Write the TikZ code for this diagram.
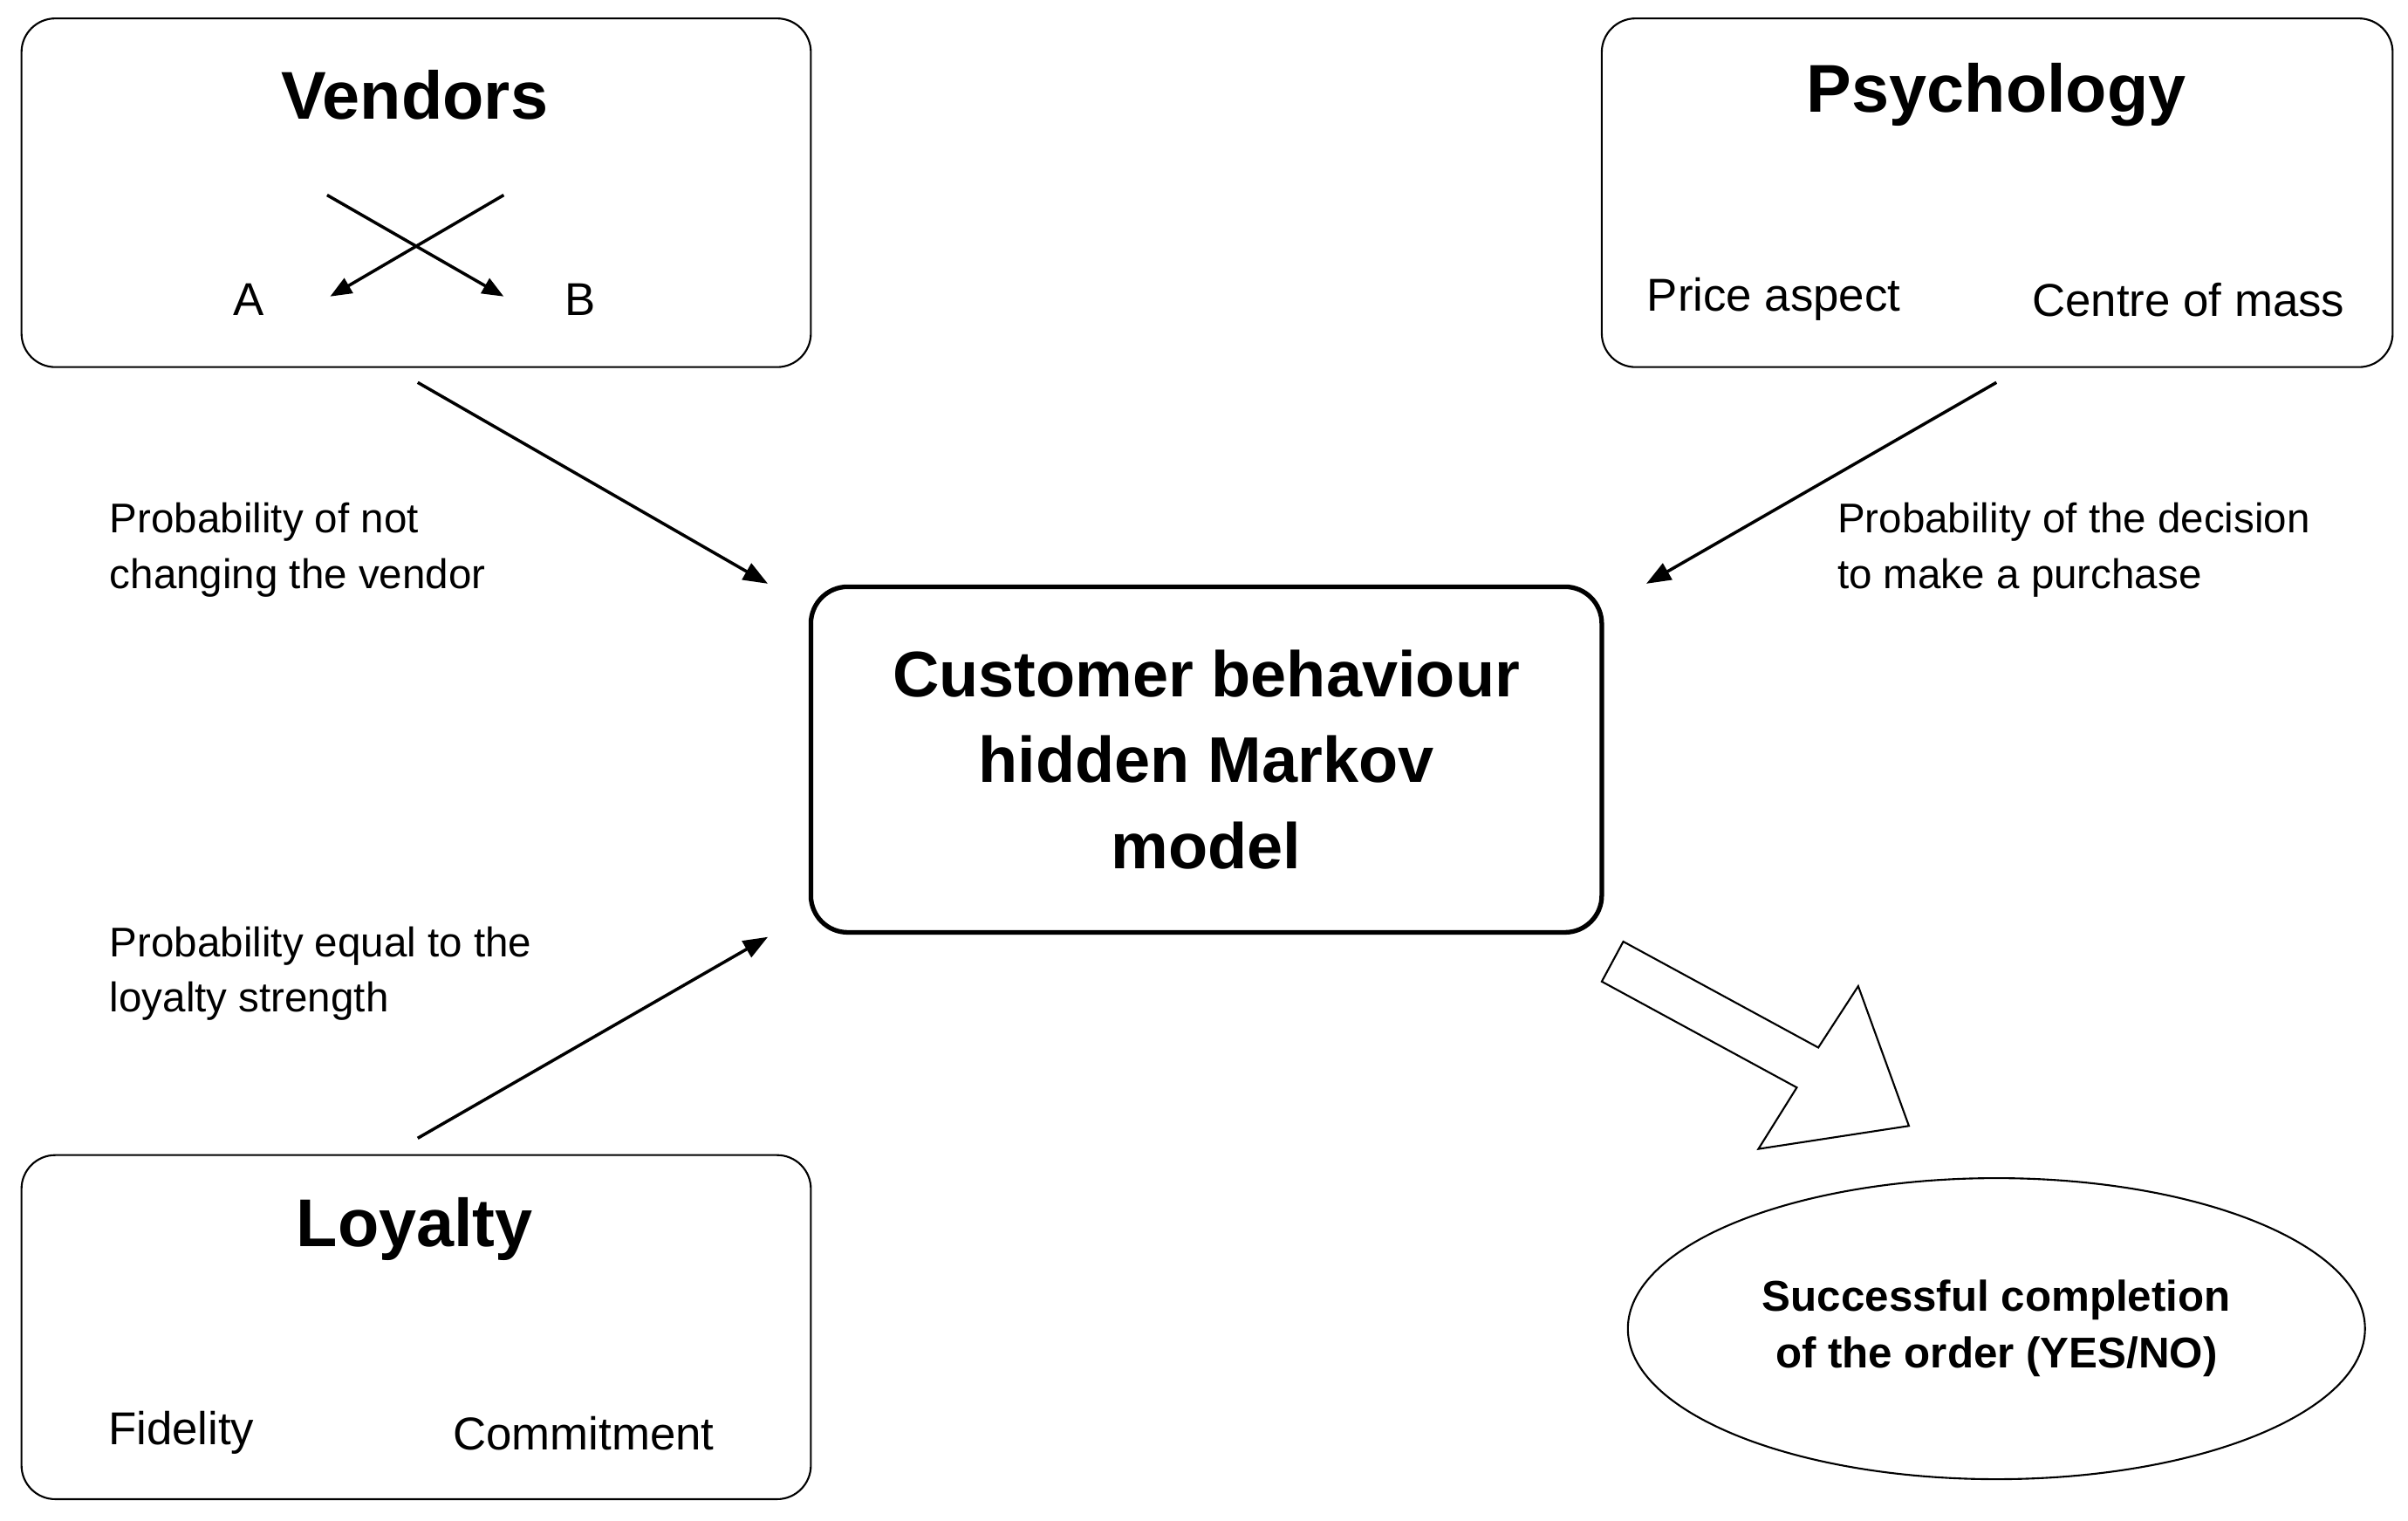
\documentclass[tikz,border=0pt]{standalone}
\usepackage{fontspec}
\setmainfont{Liberation Sans}
\usetikzlibrary{shapes.geometric,arrows.meta}
\begin{document}
\begin{tikzpicture}[x=1pt,y=-1pt,
  box/.style={draw,line width=1.2pt,rounded corners=22pt},
  title/.style={font=\fontsize{44}{50}\selectfont\bfseries},
  item/.style={font=\fontsize{30}{34}\selectfont},
  lab/.style={font=\fontsize{27}{36}\selectfont,align=left,anchor=west},
  arr/.style={line width=2pt,-{Triangle[length=16pt,width=12pt]}}]
\useasboundingbox (0,0) rectangle (1568,990);
% Vendors
\draw[box] (14,12) rectangle (528,239);
\node[title] (vt) at (270,62) {Vendors};
\node[item] (a) at (162,195) {A};
\node[item] (b) at (378,195) {B};
\coordinate (c1) at (213,127); \coordinate (c2) at (328,193);
\coordinate (c3) at (328,127); \coordinate (c4) at (215,193);
\draw[line width=2pt,-{Triangle[length=14pt,width=11pt]}] (c1) -- (c2);
\draw[line width=2pt,-{Triangle[length=14pt,width=11pt]}] (c3) -- (c4);
% Psychology
\draw[box] (1043,12) rectangle (1558,239);
\node[title] (pt) at (1300,62) {Psychology};
\node[item] (pa) at (1155,195) {Price aspect};
\node[item] (cm) at (1425,195) {Centre of mass};
% Loyalty
\draw[box] (14,752) rectangle (528,976);
\node[title] (lt) at (270,800) {Loyalty};
\node[item] (fi) at (118,933) {Fidelity};
\node[item] (co) at (380,933) {Commitment};
% Center
\node[draw,line width=3pt,rounded corners=24pt,minimum width=515pt,minimum height=225pt,
  font=\fontsize{42}{56}\selectfont\bfseries,align=center] (m) at (785.5,494.5)
  {Customer behaviour\\hidden Markov\\model};
% connectors
\coordinate (v0) at (272,249); \coordinate (v1) at (500,380);
\coordinate (p0) at (1300,249); \coordinate (p1) at (1072,380);
\coordinate (l0) at (272,741); \coordinate (l1) at (500,610);
\draw[arr] (v0) -- (v1);
\draw[arr] (p0) -- (p1);
\draw[arr] (l0) -- (l1);
\node[lab] (lv) at (68,358) {Probability of not\\changing the vendor};
\node[lab] (lp) at (1193,358) {Probability of the decision\\to make a purchase};
\node[lab] (ll) at (68,634) {Probability equal to the\\loyalty strength};
% block arrow
\draw[line width=1.2pt,fill=white] (1057,613) -- (1184,682) -- (1210,642) -- (1243,733) -- (1145,748) -- (1170,708) -- (1043,639) -- cycle;
% ellipse
\node[draw,line width=1.2pt,ellipse,minimum width=480pt,minimum height=196pt,
  font=\fontsize{28}{37}\selectfont\bfseries,align=center] (o) at (1300,865)
  {Successful completion\\of the order (YES/NO)};
\end{tikzpicture}
\end{document}
